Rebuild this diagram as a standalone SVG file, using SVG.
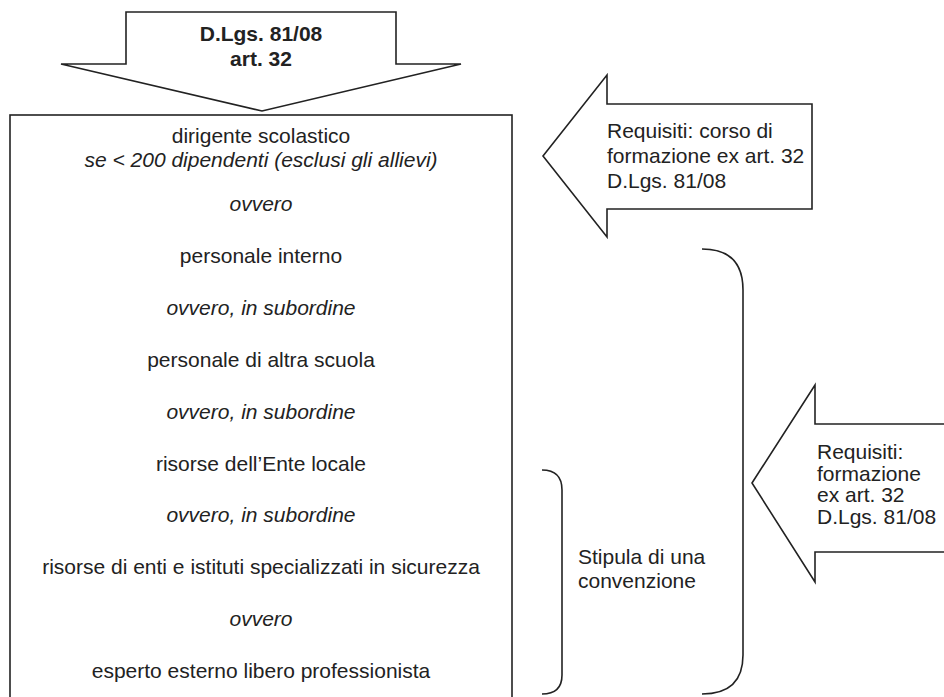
<svg xmlns="http://www.w3.org/2000/svg" width="944" height="697" viewBox="0 0 944 697">
<style>
.sh{fill:#fff;stroke:#222;stroke-width:1.6;stroke-linejoin:miter}
.br{fill:none;stroke:#222;stroke-width:1.6}
text{font-family:"Liberation Sans",Arial,sans-serif;font-size:21px;fill:#222}
.c{text-anchor:middle}
.i{font-style:italic}
.b{font-weight:bold}
</style>
<rect width="944" height="697" fill="#fff"/>
<g id="box">
<rect class="sh" x="10" y="115" width="502" height="600"/>
<text class="c" x="261" y="143">dirigente scolastico</text>
<text class="c i" x="261" y="167">se &lt; 200 dipendenti (esclusi gli allievi)</text>
<text class="c i" x="261" y="211">ovvero</text>
<text class="c" x="261" y="263">personale interno</text>
<text class="c i" x="261" y="315">ovvero, in subordine</text>
<text class="c" x="261" y="367">personale di altra scuola</text>
<text class="c i" x="261" y="419">ovvero, in subordine</text>
<text class="c" x="261" y="471">risorse dell’Ente locale</text>
<text class="c i" x="261" y="522">ovvero, in subordine</text>
<text class="c" x="261" y="574">risorse di enti e istituti specializzati in sicurezza</text>
<text class="c i" x="261" y="626">ovvero</text>
<text class="c" x="261" y="678">esperto esterno libero professionista</text>
</g>
<g id="arrow-top">
<polygon class="sh" points="126,12 396,12 396,64 461,64 262,111 61,64 126,64"/>
<text class="c b" x="261" y="41">D.Lgs. 81/08</text>
<text class="c b" x="261" y="66">art. 32</text>
</g>
<g id="arrow-requisiti-1">
<polygon class="sh" points="543,156 607,75 607,104 812,104 812,209 607,209 607,237"/>
<text x="607" y="138">Requisiti: corso di</text>
<text x="607" y="163">formazione ex art. 32</text>
<text x="607" y="188">D.Lgs. 81/08</text>
</g>
<g id="arrow-requisiti-2">
<polygon class="sh" points="752,483 815,385 815,424 950,424 950,552 815,552 815,582"/>
<text x="817" y="459">Requisiti:</text>
<text x="817" y="481">formazione</text>
<text x="817" y="502">ex art. 32</text>
<text x="817" y="524">D.Lgs. 81/08</text>
</g>
<g id="connectors">
<path class="br" d="M542,470 Q562,470 562,490 V675 Q562,694 542,694"/>
<path class="br" d="M702,249 Q743,249 743,290 V655 Q743,694 702,694"/>
</g>
<g id="convenzione">
<text x="578" y="564">Stipula di una</text>
<text x="578" y="588">convenzione</text>
</g>
</svg>
